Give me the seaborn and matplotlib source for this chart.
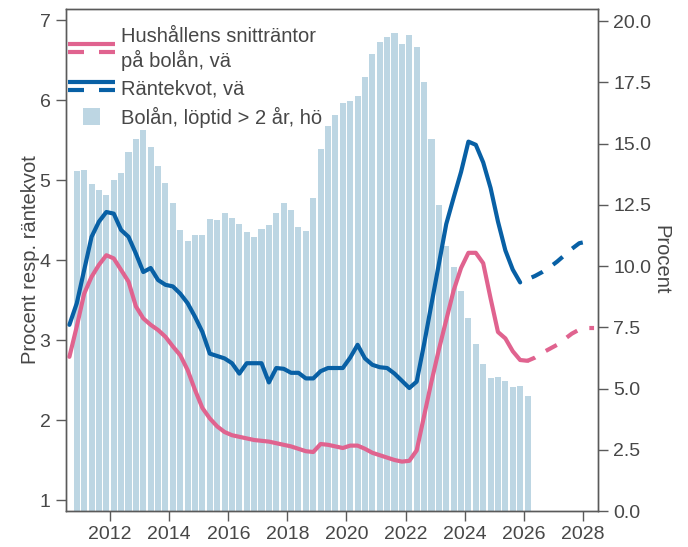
import numpy as np
import matplotlib
matplotlib.use("Agg")
import matplotlib.pyplot as plt
from matplotlib.lines import Line2D
from matplotlib.patches import Patch, Rectangle
from matplotlib.legend_handler import HandlerBase
import seaborn as sns

# Bolån med löptid > 2 år, procent (höger axel), kvartal
bar_t = 2010.875 + 0.25 * np.arange(62)
bolan = [13.89, 13.93, 13.33, 13.12, 12.91, 13.50, 13.80, 14.64, 15.17, 15.54,
         14.86, 14.08, 13.40, 12.57, 11.48, 11.02, 11.27, 11.27, 11.90, 11.86,
         12.16, 11.96, 11.73, 11.37, 11.17, 11.52, 11.67, 12.18, 12.56, 12.27,
         11.60, 11.43, 12.78, 14.76, 15.71, 16.15, 16.64, 16.72, 16.94, 17.71,
         18.65, 19.13, 19.35, 19.51, 19.06, 19.43, 18.93, 17.51, 15.17, 12.50,
         10.82, 9.95, 8.98, 7.89, 6.82, 5.99, 5.42, 5.48, 5.31, 5.07, 5.12, 4.71]

# Räntekvot (vänster axel), utfall
kvot_t = 2010.625 + 0.25 * np.arange(62)
kvot = [3.19, 3.46, 3.875, 4.29, 4.48, 4.60, 4.58, 4.375, 4.29, 4.08,
        3.85, 3.90, 3.75, 3.69, 3.67, 3.58, 3.46, 3.29, 3.10, 2.83,
        2.80, 2.77, 2.71, 2.58, 2.71, 2.71, 2.71, 2.47, 2.65, 2.64,
        2.59, 2.59, 2.52, 2.52, 2.61, 2.65, 2.65, 2.65, 2.78, 2.94,
        2.77, 2.69, 2.66, 2.65, 2.58, 2.49, 2.40, 2.48, 2.95, 3.45,
        3.95, 4.45, 4.78, 5.10, 5.48, 5.44, 5.22, 4.90, 4.48, 4.12,
        3.88, 3.72]
# Räntekvot, prognos
kvot_prog_t = 2025.875 + 0.25 * np.arange(11)
kvot_prog = [3.72, 3.76, 3.80, 3.85, 3.91, 3.98, 4.06, 4.14, 4.21, 4.23, 4.23]

# Hushållens snitträntor på bolån (vänster axel), utfall
ranta_t = 2010.625 + 0.25 * np.arange(63)
ranta = [2.79, 3.17, 3.58, 3.79, 3.94, 4.06, 4.02, 3.875, 3.73, 3.42,
         3.27, 3.19, 3.125, 3.04, 2.92, 2.81, 2.625, 2.375, 2.15, 2.02,
         1.92, 1.85, 1.81, 1.79, 1.77, 1.75, 1.74, 1.73, 1.71, 1.69,
         1.67, 1.64, 1.61, 1.60, 1.70, 1.69, 1.67, 1.65, 1.68, 1.68,
         1.64, 1.59, 1.56, 1.53, 1.50, 1.48, 1.49, 1.62, 2.05, 2.48,
         2.88, 3.25, 3.62, 3.90, 4.09, 4.09, 3.96, 3.52, 3.10, 3.02,
         2.86, 2.75, 2.74]
ranta_prog_t = 2026.125 + 0.25 * np.arange(10)
ranta_prog = [2.74, 2.78, 2.84, 2.89, 2.94, 3.01, 3.08, 3.13, 3.15, 3.15]

x_ticks = [2012, 2014, 2016, 2018, 2020, 2022, 2024, 2026, 2028]
left_ticks = [1, 2, 3, 4, 5, 6, 7]
right_ticks = [0, 2.5, 5, 7.5, 10, 12.5, 15, 17.5, 20]

BLUE = "#0860A5"
PINK = "#E0638F"
BARC = "#BDD6E3"
TEXT = "#474747"
AXC = "#5a5a5a"

sns.set_style("ticks")
plt.rcParams["font.family"] = ["Liberation Sans", "DejaVu Sans"]


class SolidDashHandler(HandlerBase):
    def create_artists(self, legend, orig_handle, xdescent, ydescent,
                       width, height, fontsize, trans):
        x0, x1 = -xdescent, width - xdescent
        c = orig_handle.get_color()
        lw = orig_handle.get_linewidth()
        y_top = -ydescent + 0.88 * height
        y_bot = -ydescent + 0.30 * height
        seg = (x1 - x0) * 0.34
        arts = [Line2D([x0, x1], [y_top, y_top], color=c, lw=lw,
                       solid_capstyle="butt", transform=trans),
                Line2D([x0, x0 + seg], [y_bot, y_bot], color=c, lw=lw,
                       solid_capstyle="butt", transform=trans),
                Line2D([x1 - seg, x1], [y_bot, y_bot], color=c, lw=lw,
                       solid_capstyle="butt", transform=trans)]
        return arts


class SquareHandler(HandlerBase):
    def create_artists(self, legend, orig_handle, xdescent, ydescent,
                       width, height, fontsize, trans):
        side = 0.85 * fontsize
        cx = -xdescent + width / 2
        cy = -ydescent + 0.52 * height
        r = Rectangle((cx - side / 2, cy - side / 2), side, side,
                      facecolor=orig_handle.get_facecolor(), edgecolor="none",
                      transform=trans)
        return [r]


fig = plt.figure(figsize=(6.88, 5.47), dpi=100)
ax = fig.add_axes([0.0955, 0.0658, 0.7733, 0.9177])
ax2 = ax.twinx()

sns.barplot(x=bar_t, y=bolan, native_scale=True, width=0.82, color=BARC,
            saturation=1, errorbar=None, linewidth=0, ax=ax2)

sns.lineplot(x=ranta_t, y=ranta, color=PINK, lw=3, ax=ax)
sns.lineplot(x=ranta_prog_t, y=ranta_prog, color=PINK, lw=3,
             linestyle=(1, (3, 3)), ax=ax)
sns.lineplot(x=kvot_t, y=kvot, color=BLUE, lw=3, ax=ax)
sns.lineplot(x=kvot_prog_t, y=kvot_prog, color=BLUE, lw=3,
             linestyle=(3, (3, 3)), ax=ax)

ax.set_zorder(ax2.get_zorder() + 1)
ax.patch.set_visible(False)

ax.set_xlim(2010.5, 2028.5)
ax.set_ylim(0.8625, 7.1375)
ax2.set_ylim(0, 20.49)
ax.set_xticks(x_ticks)
ax.set_xticklabels([str(v) for v in x_ticks])
ax.set_yticks(left_ticks)
ax2.set_yticks(right_ticks)
ax2.set_yticklabels([f"{v:.1f}" for v in right_ticks])

for a in (ax, ax2):
    a.tick_params(direction="out", length=7, width=1, color=AXC,
                  labelcolor=TEXT, labelsize=14, pad=4)
    for s in a.spines.values():
        s.set_color(AXC)
        s.set_linewidth(1)
        s.set_visible(True)

ax.set_ylabel("Procent resp. räntekvot", fontsize=14.5, color=TEXT, labelpad=-0.5)
ax2.set_ylabel("Procent", fontsize=14.5, color=TEXT, rotation=270, labelpad=14)

h_ranta = Line2D([], [], color=PINK, lw=3)
h_kvot = Line2D([], [], color=BLUE, lw=3)
h_bar = Patch(facecolor=BARC)
leg = ax.legend([h_ranta, h_kvot, h_bar],
                ["Hushållens snitträntor\npå bolån, vä", "Räntekvot, vä",
                 "Bolån, löptid > 2 år, hö"],
                handler_map={Line2D: SolidDashHandler(), Patch: SquareHandler()},
                loc="upper left", bbox_to_anchor=(0.004, 0.965), frameon=False,
                prop={"size": 14.5}, handlelength=2.35, handletextpad=0.3,
                borderpad=0, borderaxespad=0, labelspacing=0.42)
for t in leg.get_texts():
    t.set_color(TEXT)
    t.set_linespacing(1.25)

fig.savefig("out.png", dpi=100)
